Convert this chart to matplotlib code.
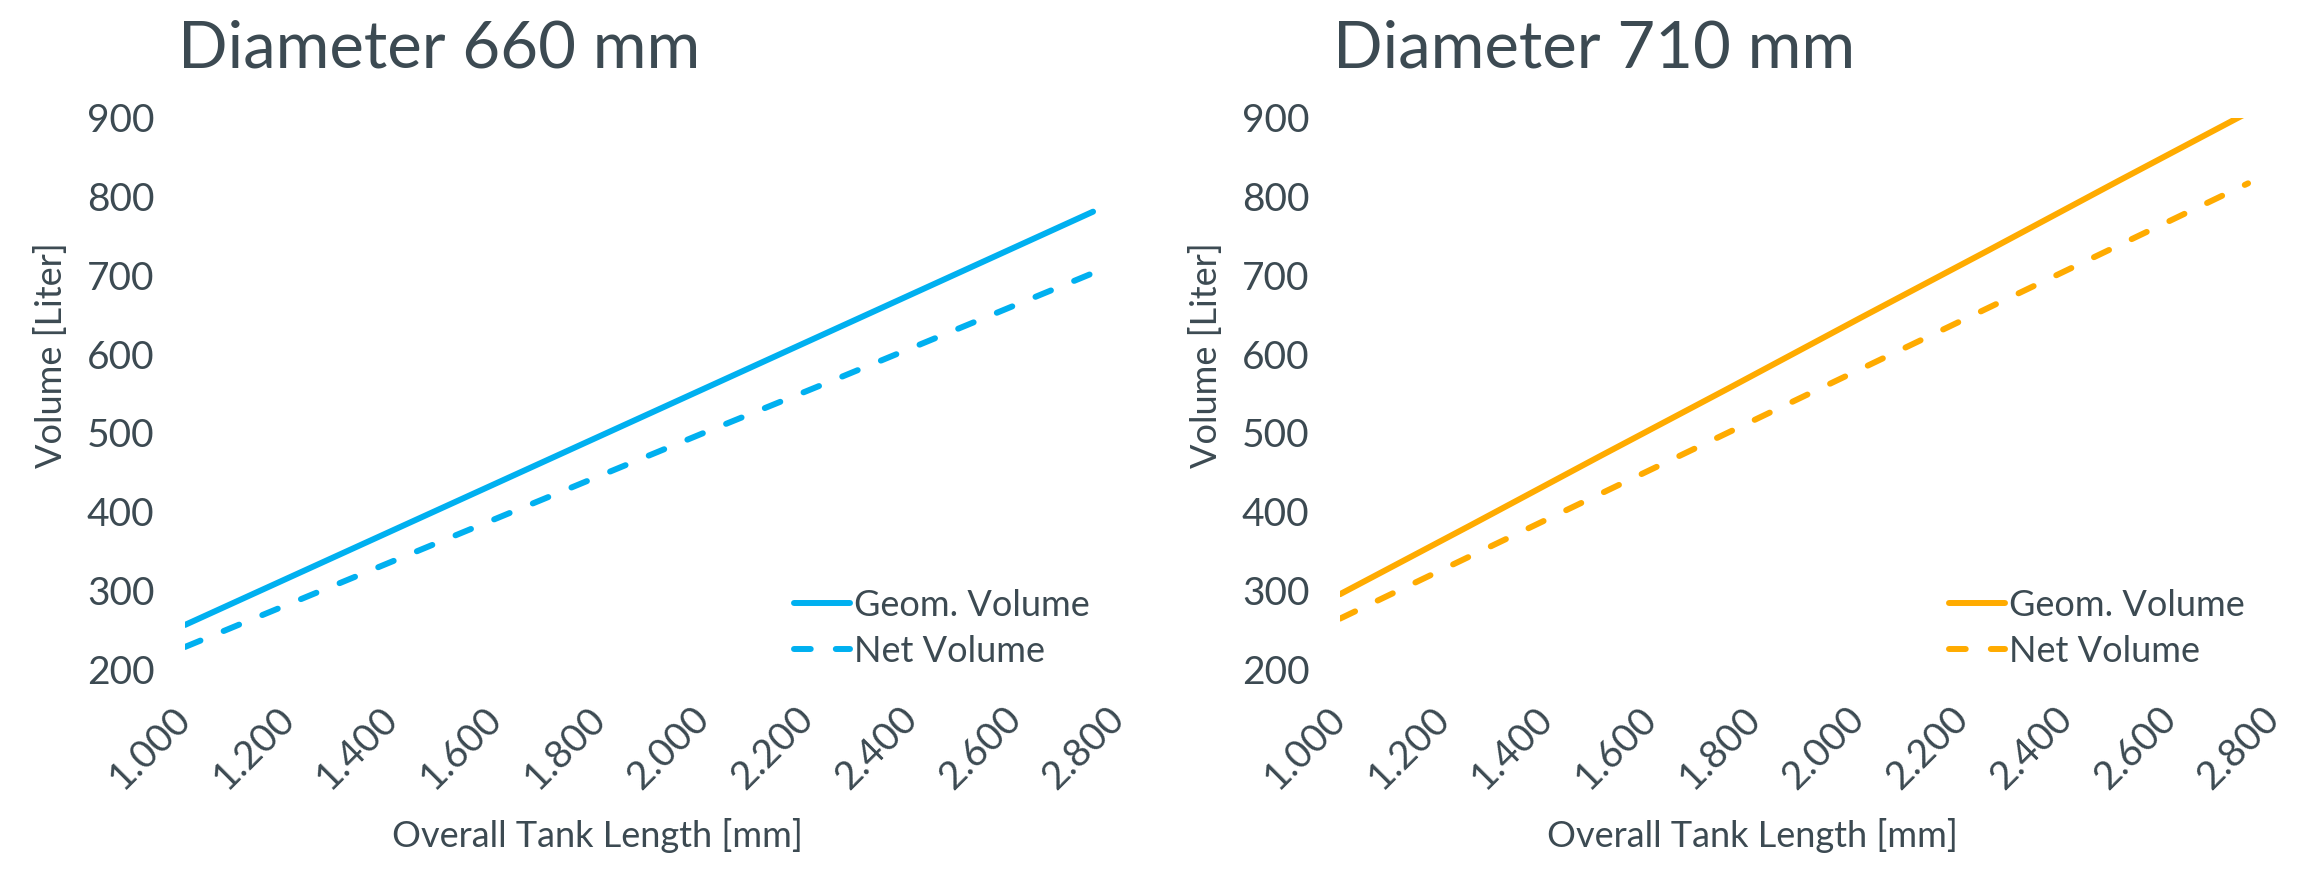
import matplotlib.pyplot as plt
import numpy as np

# Data
length_mm = [1000, 1250, 1500, 1750, 2000, 2250, 2500, 2750]
geom_660 = [256, 331, 406, 481, 556, 631, 706, 781]
net_660 = [228, 296, 364, 432, 500, 567, 635, 703]
geom_710 = [295, 382, 470, 557, 645, 732, 820, 907]
net_710 = [264, 343, 422, 501, 580, 659, 738, 817]

titles = ['Diameter 660 mm', 'Diameter 710 mm']
colors = ['#00B0F0', '#FFAB00']
x_ticks = [1000, 1200, 1400, 1600, 1800, 2000, 2200, 2400, 2600, 2800]
x_ticklabels = ['1.000', '1.200', '1.400', '1.600', '1.800',
                '2.000', '2.200', '2.400', '2.600', '2.800']
y_ticks = [200, 300, 400, 500, 600, 700, 800, 900]

text_col = '#3C4A52'
plt.rcParams['font.family'] = ['Lato', 'DejaVu Sans']

W, H = 2322, 881
fig = plt.figure(figsize=(W / 100, H / 100), dpi=100)

series = [(geom_660, net_660), (geom_710, net_710)]
lefts = [185, 1340]

for i, (geom, net) in enumerate(series):
    ax = fig.add_axes([lefts[i] / W, 1 - 669 / H, 934 / W, (669 - 118) / H])
    ax.plot(length_mm, geom, color=colors[i], lw=4.3, solid_capstyle='round',
            label='Geom. Volume')
    ax.plot(length_mm, net, color=colors[i], lw=4.3, dashes=(2.8, 4.2),
            dash_capstyle='round', label='Net Volume')
    ax.set_xlim(1000, 2800)
    ax.set_ylim(200, 900)
    ax.set_xticks(x_ticks)
    ax.set_xticklabels(x_ticklabels, rotation=45, ha='right', va='center',
                       rotation_mode='anchor')
    ax.set_yticks(y_ticks)
    ax.tick_params(axis='both', length=0, labelsize=28, labelcolor=text_col)
    ax.tick_params(axis='x', pad=32)
    ax.tick_params(axis='y', pad=22)
    for s in ax.spines.values():
        s.set_visible(False)
    ax.set_xlabel('Overall Tank Length [mm]', fontsize=26, color=text_col)
    ax.xaxis.set_label_coords(0.442, -0.27)
    ax.set_ylabel('Volume [Liter]', fontsize=26, color=text_col)
    ax.yaxis.set_label_coords(-0.125, 0.57)
    ax.text(-0.008, 1.125, titles[i], transform=ax.transAxes, fontsize=47,
            color=text_col, ha='left', va='center')
    leg = ax.legend(loc='upper left', bbox_to_anchor=(0.652, 0.145),
                    frameon=False, fontsize=26, handlelength=1.55,
                    handletextpad=0.1, borderaxespad=0, borderpad=0,
                    labelspacing=0.35)
    for t in leg.get_texts():
        t.set_color(text_col)

fig.savefig('out.png', dpi=100)
